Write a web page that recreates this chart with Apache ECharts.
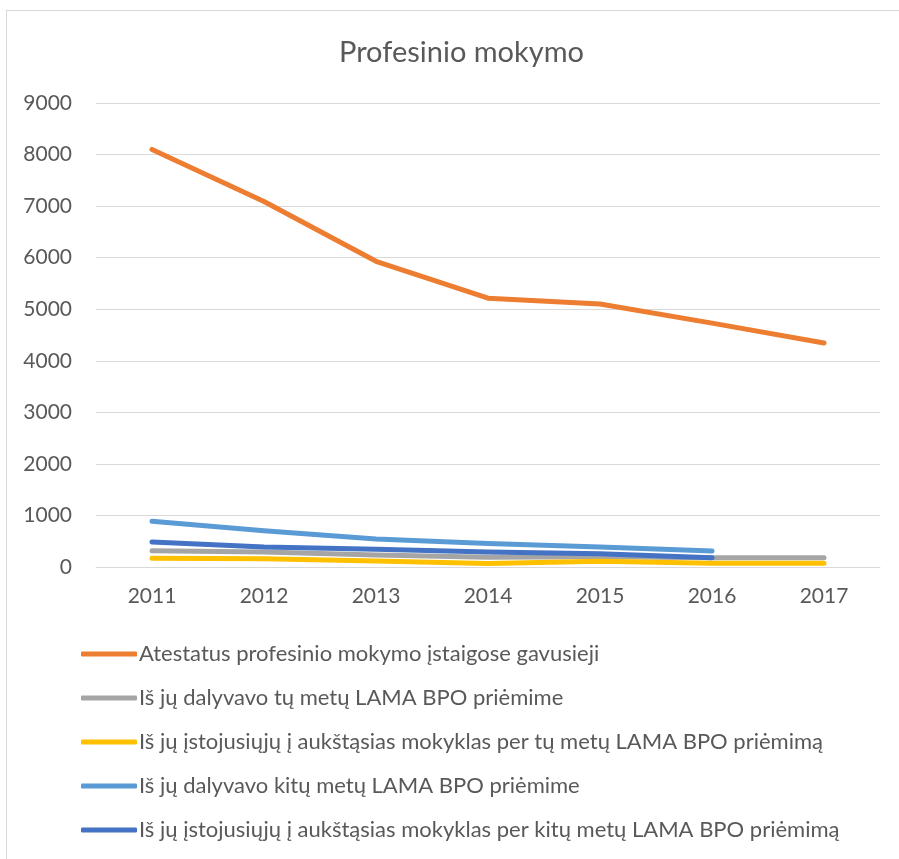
<!DOCTYPE html>
<html>
<head>
<meta charset="utf-8">
<script src="https://cdn.jsdelivr.net/npm/echarts@6/dist/echarts.min.js"></script>
<style>
  html, body { margin: 0; padding: 0; background: #fff; }
  #frame { position: absolute; left: 6px; top: 10px; width: 900px; height: 860px; border: 1px solid #d9d9d9; }
  #main { position: absolute; left: 0; top: 0; width: 899px; height: 859px; }
</style>
</head>
<body>
<div id="frame"></div>
<div id="main"></div>
<script>
var years = ['2011', '2012', '2013', '2014', '2015', '2016', '2017'];
var seriesNames = [
    'Atestatus profesinio mokymo įstaigose gavusieji',
    'Iš jų dalyvavo tų metų LAMA BPO priėmime',
    'Iš jų įstojusiųjų į aukštąsias mokyklas per tų metų LAMA BPO priėmimą',
    'Iš jų dalyvavo kitų metų LAMA BPO priėmime',
    'Iš jų įstojusiųjų į aukštąsias mokyklas per kitų metų LAMA BPO priėmimą'
];
var atestatus = [8100, 7090, 5930, 5215, 5100, 4730, 4345];
var dalyvavoTu = [316, 290, 235, 191, 197, 178, 178];
var istojoTu = [171, 158, 118, 66, 112, 72, 72];
var dalyvavoKitu = [888, 704, 545, 454, 388, 309, null];
var istojoKitu = [487, 388, 342, 290, 257, 178, null];
var colors = ['#ed7d31', '#a5a5a5', '#ffc000', '#5b9bd5', '#4472c4'];

var myChart = echarts.init(document.getElementById('main'));
var font = 'Lato';

function mkLine(i, data) {
    return {
        name: seriesNames[i],
        type: 'line',
        data: data,
        showSymbol: false,
        symbol: 'none',
        lineStyle: { width: 5, color: colors[i], cap: 'round', join: 'round' },
        itemStyle: { color: colors[i] }
    };
}

var option = {
    animation: false,
    title: {
        text: 'Profesinio mokymo',
        left: 334,
        top: 33,
        textStyle: { fontFamily: font, fontSize: 29, fontWeight: 'normal', color: '#595959' }
    },
    legend: {
        orient: 'vertical',
        left: 76,
        top: 638,
        itemGap: 22,
        itemWidth: 56,
        itemHeight: 5,
        icon: 'roundRect',
        textStyle: { fontFamily: font, fontSize: 22, color: '#595959', padding: [0, 0, 0, -3] },
        data: seriesNames
    },
    grid: { left: 96, right: 19, top: 103, bottom: 292 },
    xAxis: {
        type: 'category',
        data: years,
        axisLine: { lineStyle: { color: '#d9d9d9', width: 1 } },
        axisTick: { show: false },
        axisLabel: { fontFamily: font, fontSize: 21, color: '#595959', margin: 19 }
    },
    yAxis: {
        type: 'value',
        min: 0,
        max: 9000,
        interval: 1000,
        axisLine: { show: false },
        axisTick: { show: false },
        splitLine: { lineStyle: { color: '#d9d9d9', width: 1 } },
        axisLabel: {
            fontFamily: font, fontSize: 21, color: '#595959', margin: 24,
            formatter: function (v) { return String(v); }
        }
    },
    series: [
        mkLine(0, atestatus),
        mkLine(1, dalyvavoTu),
        mkLine(2, istojoTu),
        mkLine(3, dalyvavoKitu),
        mkLine(4, istojoKitu)
    ]
};
myChart.setOption(option);
</script>
</body>
</html>
